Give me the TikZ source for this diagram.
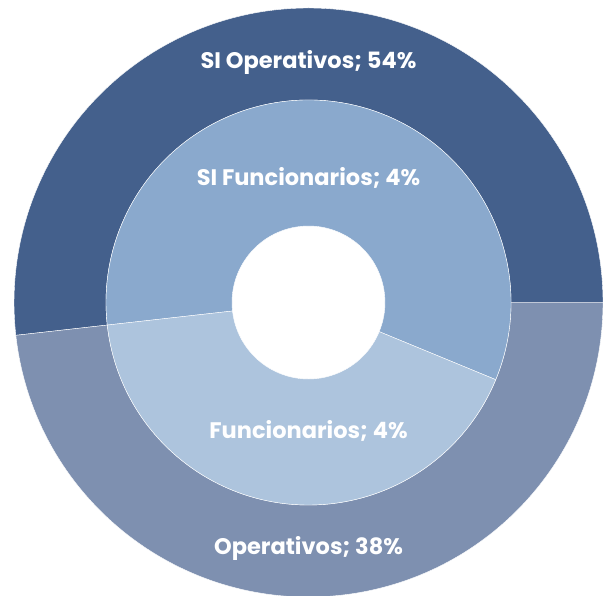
\documentclass[tikz,border=0pt]{standalone}
\usepackage{fontspec}
\setmainfont{Poppins}
\definecolor{siop}{HTML}{44608C}
\definecolor{op}{HTML}{7E90B0}
\definecolor{sifun}{HTML}{8AA9CD}
\definecolor{fun}{HTML}{ADC4DD}
\begin{document}
\begin{tikzpicture}[x=1pt,y=1pt,
  lbl/.style={text=white,font=\fontsize{22.5}{26}\selectfont\bfseries,inner sep=0pt},
  sep/.style={draw=white,line width=0.4pt}]
\useasboundingbox (0,0) rectangle (603,595);
\coordinate (c) at (308.5,292.5);
\def\Ro{294.5}\def\Ri{202.5}\def\Rh{76.5}
\begin{scope}
\clip (0,0) rectangle (603,595);
% outer ring
\fill[siop,sep] ([shift={(0:\Ro)}]c) arc[start angle=0,end angle=186.4,radius=\Ro]
  -- ([shift={(186.4:\Ri)}]c) arc[start angle=186.4,end angle=0,radius=\Ri] -- cycle;
\fill[op,sep] ([shift={(186.4:\Ro)}]c) arc[start angle=186.4,end angle=360,radius=\Ro]
  -- ([shift={(0:\Ri)}]c) arc[start angle=360,end angle=186.4,radius=\Ri] -- cycle;
% inner ring
\fill[sifun,sep] ([shift={(-22.4:\Ri)}]c) arc[start angle=-22.4,end angle=186.4,radius=\Ri]
  -- ([shift={(186.4:\Rh)}]c) arc[start angle=186.4,end angle=-22.4,radius=\Rh] -- cycle;
\fill[fun,sep] ([shift={(186.4:\Ri)}]c) arc[start angle=186.4,end angle=337.6,radius=\Ri]
  -- ([shift={(337.6:\Rh)}]c) arc[start angle=337.6,end angle=186.4,radius=\Rh] -- cycle;
\end{scope}
\node[lbl] (l1) at (308.5,533) {SI Operativos; 54\%};
\node[lbl] (l2) at (308.5,417) {SI Funcionarios; 4\%};
\node[lbl] (l3) at (308.5,164) {Funcionarios; 4\%};
\node[lbl] (l4) at (308.5,47) {Operativos; 38\%};
\end{tikzpicture}
\end{document}
